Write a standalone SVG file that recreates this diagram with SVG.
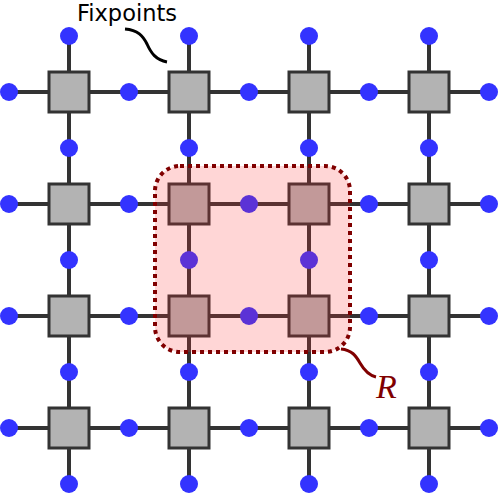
<svg xmlns="http://www.w3.org/2000/svg" width="498" height="494" viewBox="0 0 498 494">
<style>
.ln{stroke:#333;stroke-width:4;fill:none}
.sq{fill:#b3b3b3;stroke:#333;stroke-width:3}
.dt{fill:#3333ff}
</style>
<rect width="498" height="494" fill="#fff"/>
<g id="connectors">
<path class="ln" d="M9,92H489M9,204H489M9,316H489M9,428H489M69,36V484M189,36V484M309,36V484M429,36V484"/>
</g>
<g id="fixpoints">
<circle class="dt" cx="69" cy="36" r="9"/><circle class="dt" cx="189" cy="36" r="9"/><circle class="dt" cx="309" cy="36" r="9"/><circle class="dt" cx="429" cy="36" r="9"/>
<circle class="dt" cx="69" cy="148" r="9"/><circle class="dt" cx="189" cy="148" r="9"/><circle class="dt" cx="309" cy="148" r="9"/><circle class="dt" cx="429" cy="148" r="9"/>
<circle class="dt" cx="69" cy="260" r="9"/><circle class="dt" cx="189" cy="260" r="9"/><circle class="dt" cx="309" cy="260" r="9"/><circle class="dt" cx="429" cy="260" r="9"/>
<circle class="dt" cx="69" cy="372" r="9"/><circle class="dt" cx="189" cy="372" r="9"/><circle class="dt" cx="309" cy="372" r="9"/><circle class="dt" cx="429" cy="372" r="9"/>
<circle class="dt" cx="69" cy="484" r="9"/><circle class="dt" cx="189" cy="484" r="9"/><circle class="dt" cx="309" cy="484" r="9"/><circle class="dt" cx="429" cy="484" r="9"/>
<circle class="dt" cx="9" cy="92" r="9"/><circle class="dt" cx="129" cy="92" r="9"/><circle class="dt" cx="249" cy="92" r="9"/><circle class="dt" cx="369" cy="92" r="9"/><circle class="dt" cx="489" cy="92" r="9"/>
<circle class="dt" cx="9" cy="204" r="9"/><circle class="dt" cx="129" cy="204" r="9"/><circle class="dt" cx="249" cy="204" r="9"/><circle class="dt" cx="369" cy="204" r="9"/><circle class="dt" cx="489" cy="204" r="9"/>
<circle class="dt" cx="9" cy="316" r="9"/><circle class="dt" cx="129" cy="316" r="9"/><circle class="dt" cx="249" cy="316" r="9"/><circle class="dt" cx="369" cy="316" r="9"/><circle class="dt" cx="489" cy="316" r="9"/>
<circle class="dt" cx="9" cy="428" r="9"/><circle class="dt" cx="129" cy="428" r="9"/><circle class="dt" cx="249" cy="428" r="9"/><circle class="dt" cx="369" cy="428" r="9"/><circle class="dt" cx="489" cy="428" r="9"/>
</g>
<g id="squares">
<rect class="sq" x="49" y="72" width="40" height="40"/><rect class="sq" x="169" y="72" width="40" height="40"/><rect class="sq" x="289" y="72" width="40" height="40"/><rect class="sq" x="409" y="72" width="40" height="40"/>
<rect class="sq" x="49" y="184" width="40" height="40"/><rect class="sq" x="169" y="184" width="40" height="40"/><rect class="sq" x="289" y="184" width="40" height="40"/><rect class="sq" x="409" y="184" width="40" height="40"/>
<rect class="sq" x="49" y="296" width="40" height="40"/><rect class="sq" x="169" y="296" width="40" height="40"/><rect class="sq" x="289" y="296" width="40" height="40"/><rect class="sq" x="409" y="296" width="40" height="40"/>
<rect class="sq" x="49" y="408" width="40" height="40"/><rect class="sq" x="169" y="408" width="40" height="40"/><rect class="sq" x="289" y="408" width="40" height="40"/><rect class="sq" x="409" y="408" width="40" height="40"/>
</g>
<g id="region-R">
<rect x="155" y="166" width="195" height="186" rx="25" fill="#ff3333" fill-opacity="0.2" stroke="#800000" stroke-width="4" stroke-dasharray="4,4"/>
<path d="M341,349C352,350 356,356 360,363C364,370 368,375 376,377" stroke="#800000" stroke-width="3" fill="none"/>
<text x="376" y="398" font-family="Liberation Serif, serif" font-style="italic" font-size="34" fill="#800000">R</text>
</g>
<g id="label-fixpoints">
<path d="M125,29C138,30 143,36 147,44C151,53 156,60 167,62" stroke="#000" stroke-width="3" fill="none"/>
<text x="77" y="21" font-family="DejaVu Sans, sans-serif" font-size="22.5" fill="#000">Fixpoints</text>
</g>
</svg>
